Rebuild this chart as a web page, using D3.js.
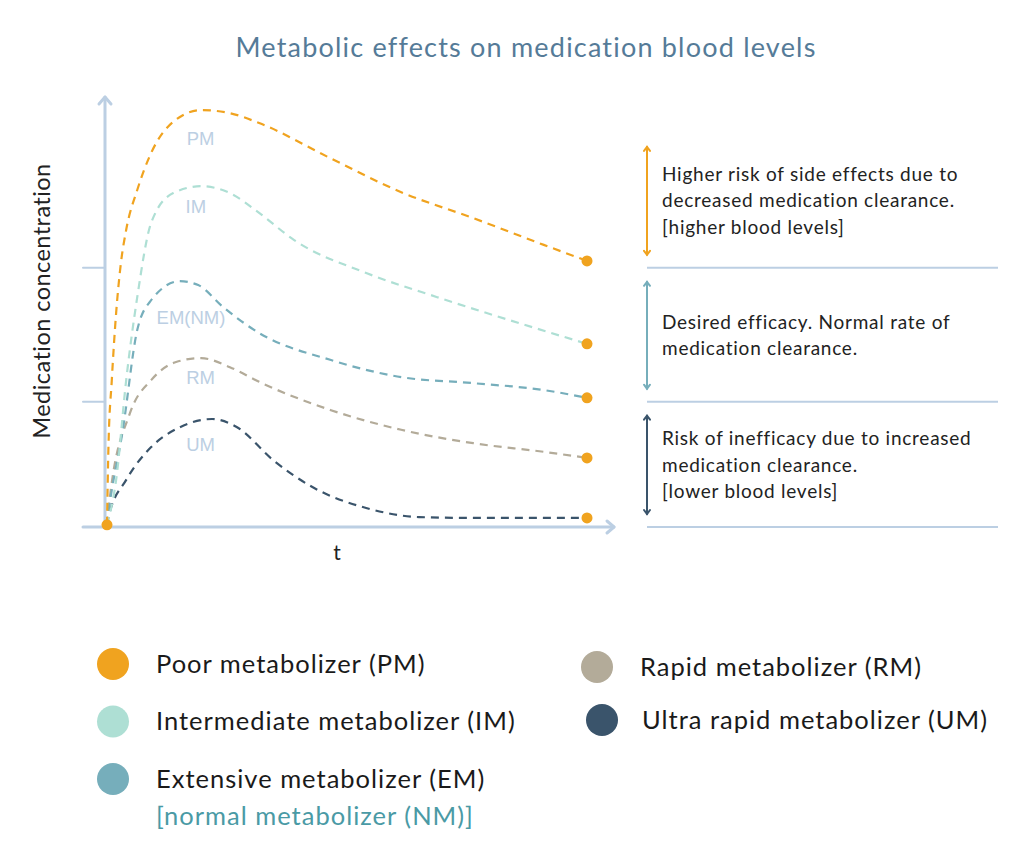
<!DOCTYPE html>
<html>
<head>
<meta charset="utf-8">
<script src="https://cdn.jsdelivr.net/npm/d3@7"></script>
<style>
  body { margin: 0; background: #ffffff; }
  text { font-family: Lato, "Noto Sans", sans-serif; }
</style>
</head>
<body>
<div id="chart"></div>
<script>
// series values: [t, concentration]
var pmPoints = [[0,0.5],[0.03,18.5],[0.10,34],[0.19,49.5],[0.29,61.1],[0.40,68.8],[0.63,78],[0.92,86.6],[1.38,93.8],[1.96,96.5],[2.56,95.8],[3.17,93.5],[4.65,85.4],[6.13,77.5],[7.63,71.5],[9.10,65.3],[10,61.6]];
var imPoints = [[0,0.5],[0.19,10.9],[0.40,34],[0.63,53.2],[0.92,70.4],[1.38,77.3],[1.96,78.9],[2.56,77.3],[3.17,72.7],[3.90,66.4],[5.40,58.8],[6.88,53.2],[8.38,47.9],[10,42.4]];
var emPoints = [[0,0.5],[0.03,3.2],[0.33,22.5],[0.63,45.6],[0.92,52.5],[1.52,56.9],[1.90,56],[2.42,50.9],[3.17,44.9],[4.65,38.7],[6.13,34.7],[7.63,33.3],[9.10,31.7],[10,29.9]];
var rmPoints = [[0,0.5],[0.06,6.9],[0.48,26.4],[0.92,34],[1.44,38.2],[1.96,39.1],[2.56,37],[3.17,33.6],[4.65,27.1],[6.13,22.5],[7.63,19.4],[9.10,17.4],[10,16]];
var umPoints = [[0,0.5],[0.03,2.3],[0.40,10.9],[0.92,18.5],[1.52,23.1],[2.19,25],[2.71,23.1],[3.46,15.5],[4.27,9.3],[5.40,4.4],[6.50,2.3],[7.63,2.1],[10,2.1]];

var seriesKeys = ["PM", "IM", "EM(NM)", "RM", "UM"];
var seriesColors = ["#f0a31f", "#aedfd4", "#76aebb", "#b3ab99", "#3a546b"];
// where the short curve labels sit [t, concentration]
var labelSpots = [[1.95, 90], [1.85, 74.1], [1.75, 48.6], [1.95, 34.5], [1.95, 19]];

// concentration levels that split the bands
var thresholds = [29, 60];

var bandTexts = [
  ["Higher risk of side effects due to", "decreased medication clearance.", "[higher blood levels]"],
  ["Desired efficacy. Normal rate of", "medication clearance."],
  ["Risk of inefficacy due to increased", "medication clearance.", "[lower blood levels]"]
];
var bandColors = ["#f0a31f", "#76aebb", "#3a546b"];

var legendLeft = ["Poor metabolizer (PM)", "Intermediate metabolizer (IM)", "Extensive metabolizer (EM)"];
var legendLeftColors = ["#f0a31f", "#aedfd4", "#76aebb"];
var legendRight = ["Rapid metabolizer (RM)", "Ultra rapid metabolizer (UM)"];
var legendRightColors = ["#b3ab99", "#3a546b"];

var svgWidth = 1030;
var svgHeight = 844;
var axisColor = "#bccfe3";

var svg = d3.select("#chart")
  .append("svg")
  .attr("width", svgWidth)
  .attr("height", svgHeight);

//scales
var x = d3.scaleLinear().domain([0, 10]).range([107, 587]);
var y = d3.scaleLinear().domain([0, 100]).range([527, 95]);

//title
svg.append("text")
  .attr("x", 526)
  .attr("y", 57)
  .attr("text-anchor", "middle")
  .style("font-size", "27px")
  .style("letter-spacing", "1.2px")
  .style("fill", "#557b98")
  .text("Metabolic effects on medication blood levels");

//axes
var axisG = svg.append("g")
  .attr("stroke", axisColor)
  .attr("stroke-width", 3)
  .attr("fill", "none")
  .attr("stroke-linecap", "round")
  .attr("stroke-linejoin", "round");

axisG.append("line")
  .attr("x1", x(0) - 2).attr("x2", x(0) - 2)
  .attr("y1", y(0)).attr("y2", 97);
axisG.append("path")
  .attr("d", `M${x(0) - 8},${104} L${x(0) - 2},${97} L${x(0) + 4},${104}`);

axisG.append("line")
  .attr("x1", 83).attr("x2", 614)
  .attr("y1", y(0)).attr("y2", y(0));
axisG.append("path")
  .attr("d", `M${607},${y(0) - 6} L${614},${y(0)} L${607},${y(0) + 6}`);

//y ticks at the thresholds
axisG.selectAll(".tick")
  .data(thresholds)
  .enter()
  .append("line")
  .attr("x1", 83)
  .attr("x2", x(0) - 2)
  .attr("y1", d => y(d))
  .attr("y2", d => y(d))
  .attr("stroke-width", 2);

//axis labels
svg.append("text")
  .attr("transform", `translate(50, ${301}) rotate(-90)`)
  .attr("text-anchor", "middle")
  .style("font-size", "23.5px")
  .style("letter-spacing", "0.45px")
  .style("fill", "#222")
  .text("Medication concentration");

svg.append("text")
  .attr("x", 337)
  .attr("y", 560)
  .attr("text-anchor", "middle")
  .style("font-size", "21px")
  .style("fill", "#222")
  .text("t");

//curves
var line = d3.line()
  .x(d => x(d[0]))
  .y(d => y(d[1]))
  .curve(d3.curveMonotoneX);

var allSeries = [pmPoints, imPoints, emPoints, rmPoints, umPoints];

// draw the lower ones first so PM sits on top
allSeries.slice().reverse().forEach(function(pts, j) {
  var i = allSeries.length - 1 - j;
  svg.append("path")
    .datum(pts)
    .attr("d", line)
    .attr("fill", "none")
    .attr("stroke", seriesColors[i])
    .attr("stroke-width", 2.2)
    .attr("stroke-dasharray", "8,6");
});

//curve labels
svg.selectAll(".curveLabel")
  .data(seriesKeys)
  .enter()
  .append("text")
  .attr("x", (d, i) => x(labelSpots[i][0]))
  .attr("y", (d, i) => y(labelSpots[i][1]))
  .attr("text-anchor", "middle")
  .attr("dy", "0.35em")
  .style("font-family", "'Liberation Sans', Arial, sans-serif")
  .style("font-size", "18.5px")
  .style("fill", "#bccfe3")
  .text(d => d);

//end dots + origin
var endPoints = allSeries.map(s => s[s.length - 1]);
svg.selectAll(".endDot")
  .data(endPoints.concat([[0, 0.5]]))
  .enter()
  .append("circle")
  .attr("cx", d => x(d[0]))
  .attr("cy", d => y(d[1]))
  .attr("r", 5.5)
  .attr("fill", "#f0a31f");

//right panel
var panelLeft = 647;
var panelRight = 998;
var bandLevels = [88, thresholds[1], thresholds[0], 0];

svg.selectAll(".bandLine")
  .data(bandLevels.slice(1))
  .enter()
  .append("line")
  .attr("x1", panelLeft)
  .attr("x2", panelRight)
  .attr("y1", d => y(d))
  .attr("y2", d => y(d))
  .attr("stroke", axisColor)
  .attr("stroke-width", 2);

bandTexts.forEach(function(lines, i) {
  var top = i === 0 ? y(bandLevels[0]) : y(bandLevels[i]) + 14;
  var bottom = y(bandLevels[i + 1]) - 13;
  var c = bandColors[i];
  var g = svg.append("g")
    .attr("stroke", c)
    .attr("stroke-width", 2)
    .attr("fill", "none")
    .attr("stroke-linecap", "round");
  g.append("line")
    .attr("x1", panelLeft).attr("x2", panelLeft)
    .attr("y1", top).attr("y2", bottom);
  g.append("path")
    .attr("d", `M${panelLeft - 3},${top + 4} L${panelLeft},${top} L${panelLeft + 3},${top + 4}`);
  g.append("path")
    .attr("d", `M${panelLeft - 3},${bottom - 4} L${panelLeft},${bottom} L${panelLeft + 3},${bottom - 4}`);

  var mid = (top + bottom) / 2;
  var lineH = 26.5;
  var startY = mid - (lines.length - 1) * lineH / 2;
  svg.append("g").selectAll("text")
    .data(lines)
    .enter()
    .append("text")
    .attr("x", 662)
    .attr("y", (d, k) => startY + k * lineH)
    .attr("dy", "0.35em")
    .style("font-size", "19px")
    .style("letter-spacing", "0.75px")
    .style("fill", "#222")
    .text(d => d);
});

//legend
var legendRow = 57.5;
var legendFont = "25.5px";
var legendSpacing = "1px";
legendLeft.forEach(function(name, i) {
  var cy = 664 + i * legendRow;
  svg.append("circle")
    .attr("cx", 113).attr("cy", cy).attr("r", 16)
    .attr("fill", legendLeftColors[i]);
  svg.append("text")
    .attr("x", 156).attr("y", cy)
    .attr("dy", "0.35em")
    .style("font-size", legendFont)
    .style("letter-spacing", legendSpacing)
    .style("fill", "#1a1a1a")
    .text(name);
});
svg.append("text")
  .attr("x", 156).attr("y", 816)
  .attr("dy", "0.35em")
  .style("font-size", legendFont)
  .style("letter-spacing", legendSpacing)
  .style("fill", "#4a9aa5")
  .text("[normal metabolizer (NM)]");

legendRight.forEach(function(name, i) {
  var cy = 667 + i * 53;
  svg.append("circle")
    .attr("cx", 597 + i * 5).attr("cy", cy).attr("r", 16)
    .attr("fill", legendRightColors[i]);
  svg.append("text")
    .attr("x", 640 + i * 2).attr("y", cy)
    .attr("dy", "0.35em")
    .style("font-size", legendFont)
    .style("letter-spacing", legendSpacing)
    .style("fill", "#1a1a1a")
    .text(name);
});
</script>
</body>
</html>
